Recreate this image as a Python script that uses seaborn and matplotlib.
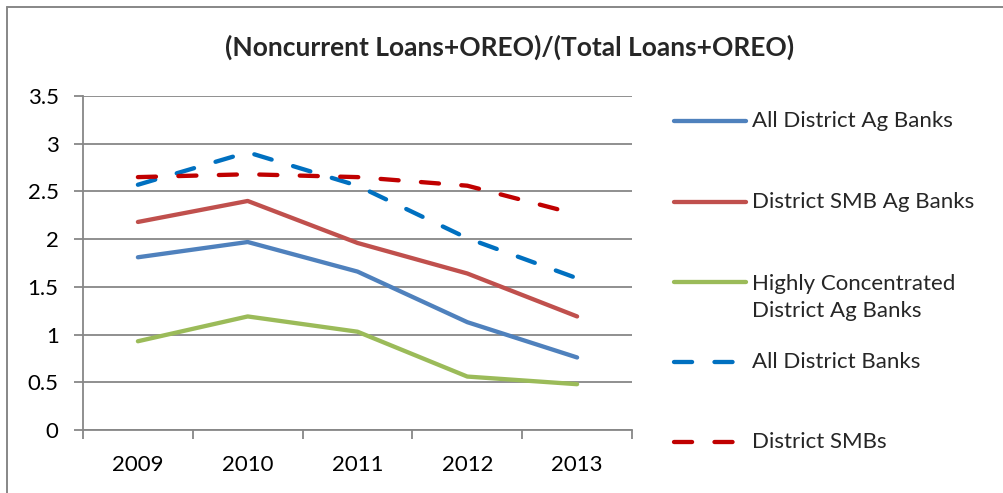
import matplotlib
matplotlib.use("Agg")
import matplotlib.pyplot as plt
from matplotlib.lines import Line2D
import pandas as pd
import seaborn as sns

# Values
years = ["2009", "2010", "2011", "2012", "2013"]
all_district_ag = [1.81, 1.97, 1.66, 1.13, 0.76]
district_smb_ag = [2.18, 2.40, 1.96, 1.64, 1.19]
concentrated_ag = [0.93, 1.19, 1.03, 0.56, 0.48]
all_district_banks = [2.57, 2.91, 2.56, 2.01, 1.59]
district_smbs = [2.65, 2.68, 2.65, 2.56, 2.26]

series_names = ["All District Ag Banks", "District SMB Ag Banks",
                "Highly Concentrated\nDistrict Ag Banks", "All District Banks", "District SMBs"]
series_values = [all_district_ag, district_smb_ag, concentrated_ag, all_district_banks, district_smbs]
colors = ["#4F81BD", "#C0504D", "#9BBB59", "#0070C0", "#C00000"]
dash_styles = ["", "", "", (4.2, 5.2), (4.2, 5.2)]
y_ticks = [0, 0.5, 1, 1.5, 2, 2.5, 3, 3.5]
y_tick_labels = ["0", "0.5", "1", "1.5", "2", "2.5", "3", "3.5"]

# long format for seaborn
rows = []
for name, vals in zip(series_names, series_values):
    for yr, v in zip(years, vals):
        rows.append({"year": yr, "value": v, "series": name})
df = pd.DataFrame(rows)

sns.set_style("white")
plt.rcParams["font.family"] = ["Lato", "DejaVu Sans"]

W, H = 1004, 493
grid_gray = "#878787"
fig = plt.figure(figsize=(W / 100, H / 100), dpi=100)
ax = fig.add_axes([83 / W, 1 - 430 / H, (632 - 83) / W, (430 - 96) / H])

sns.lineplot(data=df, x="year", y="value", hue="series", style="series",
             palette=dict(zip(series_names, colors)),
             dashes=dict(zip(series_names, dash_styles)),
             linewidth=3.1, legend=False, sort=False, ax=ax,
             dash_capstyle="round", solid_capstyle="round", solid_joinstyle="round")

ax.set_xlim(-0.5, 4.5)
ax.set_ylim(0, 3.5)
ax.set_yticks(y_ticks)
ax.set_yticklabels(y_tick_labels)
ax.set_xticks(range(len(years)))
ax.set_xticklabels(years)
ax.set_xticks([i - 0.5 for i in range(len(years) + 1)], minor=True)
ax.set_xlabel("")
ax.set_ylabel("")

ax.yaxis.grid(True, color=grid_gray, linewidth=1.3)
ax.set_axisbelow(True)
for side in ["top", "right"]:
    ax.spines[side].set_visible(False)
for side in ["left", "bottom"]:
    ax.spines[side].set_color(grid_gray)
    ax.spines[side].set_linewidth(1.3)

ax.tick_params(axis="y", which="major", length=6.5, width=1.3, color=grid_gray,
               pad=11, labelsize=16, labelcolor="black", left=True)
ax.tick_params(axis="x", which="major", length=0, pad=18, labelsize=16, labelcolor="black")
ax.tick_params(axis="x", which="minor", length=6.5, width=1.3, color=grid_gray, bottom=True)

fig.text(510 / W, 1 - 47 / H, "(Noncurrent Loans+OREO)/(Total Loans+OREO)",
         ha="center", va="center", fontsize=19, fontweight="bold")

# legend drawn on the right side of the figure
handle_y = [121, 202, 282, 362, 442]
text_y = [121, 202, 297.5, 362, 442]
for name, col, dash, hy, ty in zip(series_names, colors, dash_styles, handle_y, text_y):
    ln = Line2D([674 / W, 746 / W], [1 - hy / H, 1 - hy / H], transform=fig.transFigure,
                color=col, linewidth=3.1, solid_capstyle="round", dash_capstyle="round")
    if dash:
        ln.set_dashes(dash)
    fig.add_artist(ln)
    fig.text(752 / W, 1 - ty / H, name, ha="left", va="center", fontsize=16, linespacing=1.45)

# chart border (top and left edges)
fig.add_artist(Line2D([7 / W, 1], [1 - 7 / H, 1 - 7 / H], transform=fig.transFigure,
                      color=grid_gray, linewidth=1.4))
fig.add_artist(Line2D([7 / W, 7 / W], [0, 1 - 7 / H], transform=fig.transFigure,
                      color=grid_gray, linewidth=1.4))

fig.savefig("out.png", dpi=100, facecolor="white")
